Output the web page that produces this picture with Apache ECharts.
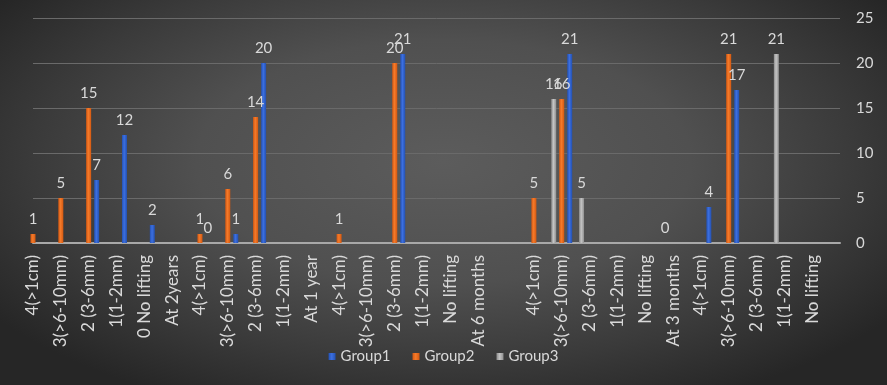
<!DOCTYPE html>
<html>
<head>
<meta charset="utf-8">
<script src="https://cdn.jsdelivr.net/npm/echarts@6/dist/echarts.min.js"></script>
<style>
html,body{margin:0;padding:0;}
body{width:887px;height:385px;background:radial-gradient(ellipse 62% 70% at 50% 42%, #5c5c5c 0%, #505050 45%, #3a3a3a 75%, #262626 100%);}
#chart{width:887px;height:385px;}
</style>
</head>
<body>
<div id="chart"></div>
<script>
const categories = ["4(>1cm)","3(>6-10mm)","2 (3-6mm)","1(1-2mm)","0 No lifting","At 2years",
  "4(>1cm)","3(>6-10mm)","2 (3-6mm)","1(1-2mm)","At 1 year",
  "4(>1cm)","3(>6-10mm)","2 (3-6mm)","1(1-2mm)","No lifting","At 6 months","",
  "4(>1cm)","3(>6-10mm)","2 (3-6mm)","1(1-2mm)","No lifting","At 3 months",
  "4(>1cm)","3(>6-10mm)","2 (3-6mm)","1(1-2mm)","No lifting",""];
const group1 = [null,null,7,12,2,null, 0,1,20,null,null, null,null,21,null,null,null,null, null,21,null,null,null,null, 4,17,null,null,null,null];
const group2 = [1,5,15,null,null,null, 1,6,14,null,null, 1,null,20,null,null,null,null, 5,16,null,null,null,null, null,21,null,null,null,null];
const group3 = [null,null,null,null,null,null, null,null,null,null,null, null,null,null,null,null,null,null, null,16,5,null,null,0, null,null,null,21,null,null];
const yTicks = [0,5,10,15,20,25];

const FONT = 'Lato, "Open Sans", sans-serif';
const TXT = '#d9d9d9';

function grad(c1, c2, c3){
  return {type:'linear', x:0, y:0, x2:1, y2:0, colorStops:[
    {offset:0, color:c1},{offset:0.45, color:c2},{offset:1, color:c3}]};
}
function mk(name, data, color){
  return {
    name: name, type:'bar', data: data,
    barWidth: 5, barGap: '60%',
    itemStyle: {color: color},
    label: {show:true, position:'top', distance:7, color:TXT, fontSize:15, fontFamily:FONT},
    emphasis: {disabled:true}
  };
}
const chart = echarts.init(document.getElementById('chart'), null, {renderer:'canvas'});
chart.setOption({
  backgroundColor: 'transparent',
  animation: false,
  textStyle: {fontFamily: FONT},
  grid: {left: 33, right: 47, top: 18, bottom: 142, containLabel: false},
  legend: {
    data: ['Group1','Group2','Group3'],
    bottom: 16, left: 'center', icon: 'rect', itemWidth: 7, itemHeight: 7, itemGap: 22,
    textStyle: {color: TXT, fontSize: 15, fontFamily: FONT}
  },
  xAxis: {
    type: 'category', data: categories, boundaryGap: false,
    axisLine: {show:true, lineStyle:{color:'#a8a8a8', width:2}},
    axisTick: {show:false},
    splitLine: {show:false},
    axisLabel: {interval:0, rotate:90, margin:12, color:TXT, fontSize:17, fontFamily:FONT}
  },
  yAxis: {
    type: 'value', position: 'right', min: yTicks[0], max: yTicks[yTicks.length-1], interval: 5,
    axisLine: {show:false}, axisTick: {show:false},
    splitLine: {lineStyle:{color:'#6a6a6a', width:1}},
    axisLabel: {color:TXT, fontSize:15, margin:16, fontFamily:FONT}
  },
  series: [
    mk('Group3', group3, grad('#8c8c8c','#c4c4c4','#909090')),
    mk('Group2', group2, grad('#d85a12','#f47a2a','#d45810')),
    mk('Group1', group1, grad('#2452b4','#3c6fe0','#2350b0'))
  ],
  color: ['#a5a5a5','#ed6b1f','#2f5fc4']
});
</script>
</body>
</html>
